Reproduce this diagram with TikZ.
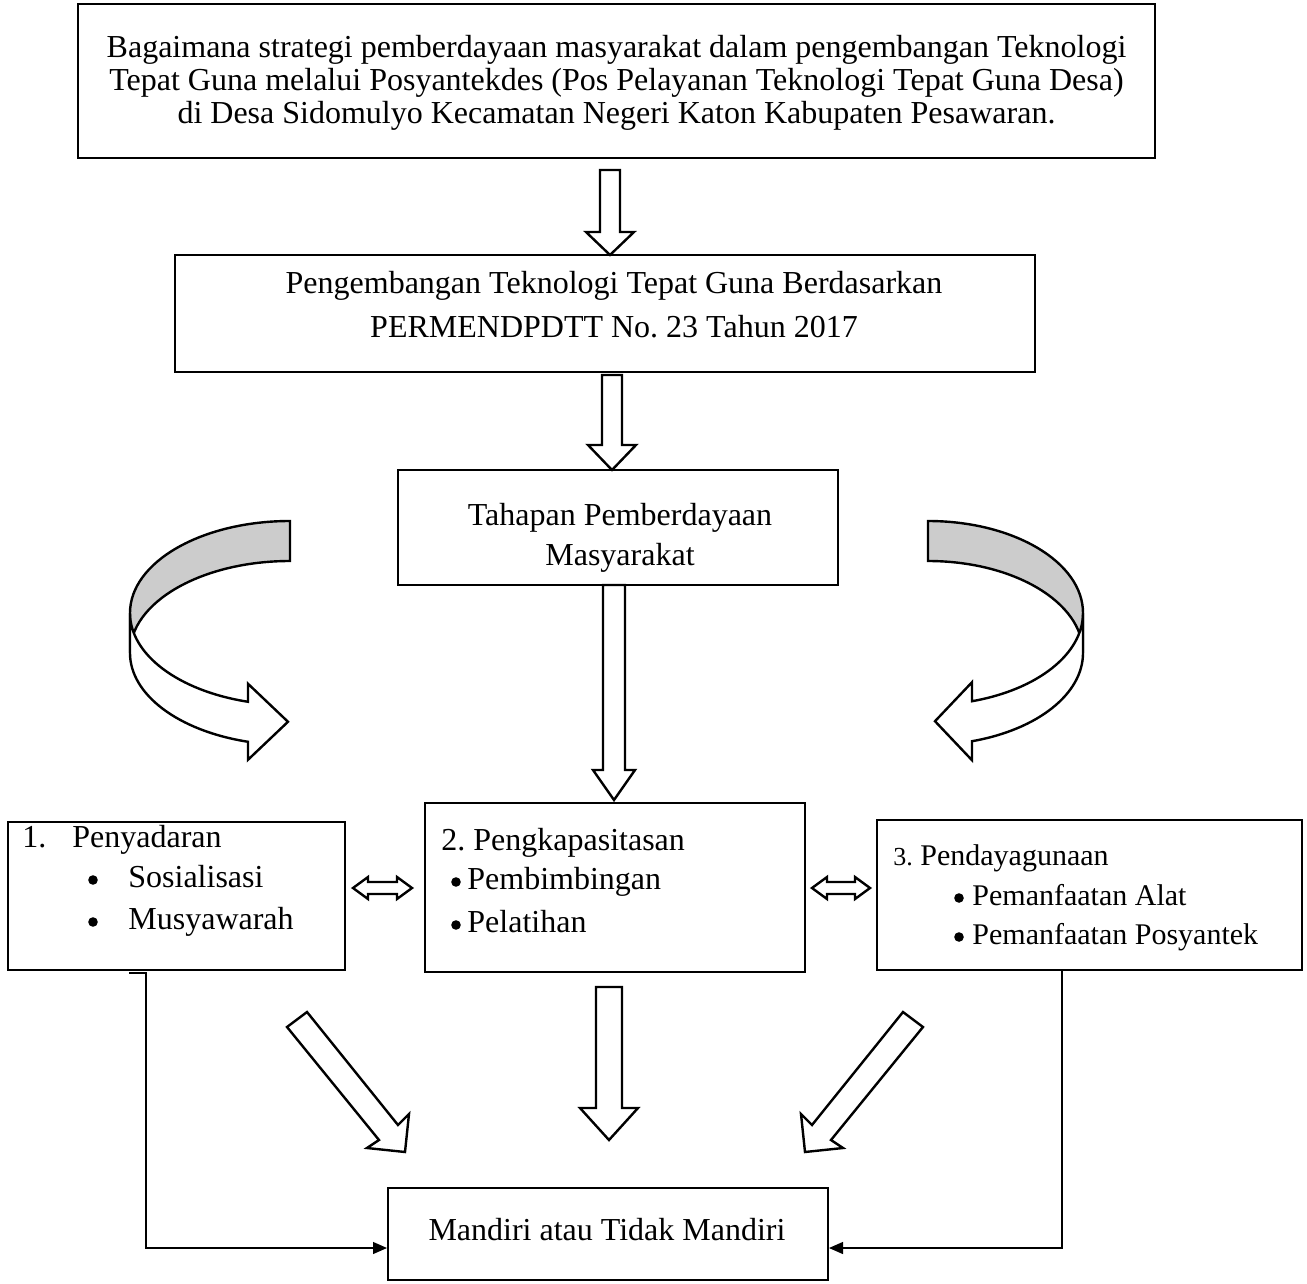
\documentclass[tikz,border=0pt]{standalone}
\usepackage{fontspec}
\setmainfont{Liberation Serif}
\usetikzlibrary{arrows.meta}
\definecolor{backgray}{RGB}{204,204,204}
\frenchspacing
\newcommand\DArrow[6]{% cx, top, tip, shaft hw, head hw, head len
  \draw[hollow] ({#1-#4},#2) -- ({#1+#4},#2) -- ({#1+#4},{#3-#6}) -- ({#1+#5},{#3-#6}) -- (#1,#3) -- ({#1-#5},{#3-#6}) -- ({#1-#4},{#3-#6}) -- cycle;}
\newcommand\HArrow[6]{% x1, x2, cy, shaft hw, head hw, head len
  \draw[hollow] (#1,#3) -- ({#1+#6},{#3-#5}) -- ({#1+#6},{#3-#4}) -- ({#2-#6},{#3-#4}) -- ({#2-#6},{#3-#5}) -- (#2,#3) -- ({#2-#6},{#3+#5}) -- ({#2-#6},{#3+#4}) -- ({#1+#6},{#3+#4}) -- ({#1+#6},{#3+#5}) -- cycle;}
\newcommand\CurvA[8]{% r, c, wR, hR, th, xs, tipx, bext
  \pgfmathsetmacro\cAng{acos((#6-#1)/#3)}
  \pgfmathsetmacro\cYa{#2+#4*sin(\cAng)}
  \pgfmathsetmacro\cYb{\cYa+#5}
  \pgfmathsetmacro\cL{#1-#3}
  \draw[hollow, fill=backgray] (#1,{#2-#4}) arc[start angle=-90, end angle=-180, x radius=#3, y radius=#4] -- (\cL,{#2+#5}) arc[start angle=180, end angle=270, x radius=#3, y radius=#4] -- cycle;
  \draw[hollow] (\cL,#2) arc[start angle=180, end angle=\cAng, x radius=#3, y radius=#4] -- (#6,{\cYa-#8}) -- (#7,{(\cYa+\cYb)/2}) -- (#6,{\cYb+#8}) -- (#6,\cYb) arc[start angle=\cAng, end angle=180, x radius=#3, y radius=#4] -- cycle;}
\begin{document}
\begin{tikzpicture}[x=0.5pt,y=-0.5pt,
  box/.style={draw, line width=1pt, inner sep=0pt, fill=white},
  txt/.style={font=\fontsize{16pt}{16.5pt}\selectfont, inner sep=0pt, align=center},
  lt/.style={font=\fontsize{16pt}{16.5pt}\selectfont, inner sep=0pt, anchor=west, text height=11pt, text depth=3.5pt},
  rt/.style={font=\fontsize{15pt}{16pt}\selectfont, inner sep=0pt, anchor=west, text height=10.5pt, text depth=3.3pt},
  bul/.style={circle, fill, inner sep=0pt, minimum size=4.8pt},
  hollow/.style={draw, line width=1.2pt, fill=white, line join=miter},
  conn/.style={draw, line width=0.6pt, -{Triangle[length=7pt,width=6pt]}}
]
\useasboundingbox (0,0) rectangle (1307,1284);
% boxes
\node[box, minimum width=538.5pt, minimum height=77pt] (b1) at (616.5,81) {};
\node[box, minimum width=430pt, minimum height=58.5pt] (b2) at (605,313.5) {};
\node[box, minimum width=220pt, minimum height=57.5pt] (b3) at (618,527.5) {};
\node[box, minimum width=168.5pt, minimum height=74pt] (lb) at (176.5,896) {};
\node[box, minimum width=190pt, minimum height=84.5pt] (mb) at (615,887.5) {};
\node[box, minimum width=212.5pt, minimum height=75pt] (rb) at (1089.5,895) {};
\node[box, minimum width=220pt, minimum height=46pt] (bot) at (608,1234) {};
% texts
\node[txt] (t1) at (616.5,83) {Bagaimana strategi pemberdayaan masyarakat dalam pengembangan Teknologi\\Tepat Guna melalui Posyantekdes (Pos Pelayanan Teknologi Tepat Guna Desa)\\di Desa Sidomulyo Kecamatan Negeri Katon Kabupaten Pesawaran.};
\node[txt, font=\fontsize{16pt}{22pt}\selectfont] (t2) at (614,305) {Pengembangan Teknologi Tepat Guna Berdasarkan\\PERMENDPDTT No. 23 Tahun 2017};
\node[txt, font=\fontsize{16pt}{20pt}\selectfont] (t3) at (620,538) {Tahapan Pemberdayaan\\Masyarakat};
\node[txt] (t4) at (607,1230) {Mandiri atau Tidak Mandiri};
% left list
\node[lt] (l1n) at (22,840) {1.};
\node[lt] (l1) at (72,840) {Penyadaran};
\node[bul] (l2b) at (93,880) {};
\node[lt] (l2) at (128,880) {Sosialisasi};
\node[bul] (l3b) at (93,922) {};
\node[lt] (l3) at (128,922) {Musyawarah};
% middle list
\node[lt] (m1) at (441,843) {2. Pengkapasitasan};
\node[bul] (m2b) at (456,882) {};
\node[lt] (m2) at (467,882) {Pembimbingan};
\node[bul] (m3b) at (456,925) {};
\node[lt] (m3) at (467,925) {Pelatihan};
% right list
\node[rt] (r1) at (893,858) {{\fontsize{13pt}{14pt}\selectfont 3.} Pendayagunaan};
\node[bul] (r2b) at (959,898) {};
\node[rt] (r2) at (972,898) {Pemanfaatan Alat};
\node[bul] (r3b) at (959,937) {};
\node[rt] (r3) at (972,937) {Pemanfaatan Posyantek};
% straight hollow arrows
\DArrow{610}{170}{255}{10}{24}{23}
\DArrow{612}{375}{470}{10}{24}{25}
\DArrow{614}{585}{800}{11}{21}{30}
\DArrow{609}{987}{1140}{13}{29}{32}
\HArrow{353}{412}{888}{6}{11}{15}
\HArrow{812}{870}{888}{6}{11}{15}
% diagonal arrows
\draw[hollow] (287,1027) -- (307,1012) -- (398,1125) -- (409,1114) -- (405,1152) -- (367,1148) -- (379,1140) -- cycle;
\begin{scope}[shift={(1210,0)}, xscale=-1]
\draw[hollow] (287,1027) -- (307,1012) -- (398,1125) -- (409,1114) -- (405,1152) -- (367,1148) -- (379,1140) -- cycle;
\end{scope}
% curved arrows
\CurvA{290}{613}{160}{92}{40}{248}{288}{18}
\begin{scope}[shift={(1213,0)}, xscale=-1]
\CurvA{285}{613}{155}{92}{40}{241}{278}{19}
\end{scope}
% connectors
\coordinate (ls) at (129,973);
\coordinate (lc) at (146,973);
\coordinate (rs) at (1062,970);
\draw[conn] (ls) -- (lc) |- ([yshift=-7pt]bot.west);
\draw[conn] (rs) |- ([yshift=-7pt]bot.east);
\end{tikzpicture}
\end{document}
